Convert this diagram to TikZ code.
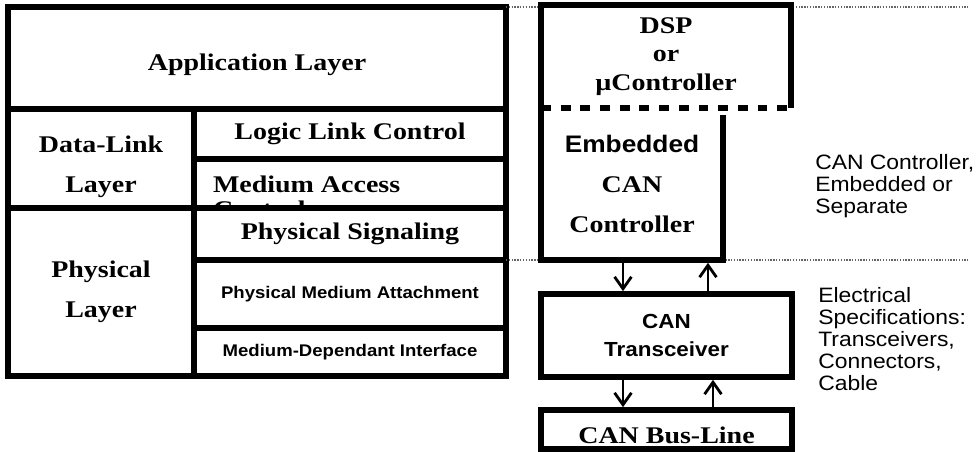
\documentclass[tikz,border=0pt]{standalone}
\usepackage{fontspec}
\setmainfont{Liberation Serif}[FakeStretch=1.17]
\newfontfamily\notefont{Liberation Sans}[FakeStretch=1.1]
\usetikzlibrary{arrows.meta,calc,positioning}

\newlength\pxu
\setlength\pxu{0.025cm}

\tikzset{
  layer/.style={draw, fill=white, line width=4.3pt, inner sep=0pt, outer sep=0pt, align=center},
  hidden/.style={inner sep=0pt, outer sep=0pt, align=center},
  frame/.style={line width=4.3pt},
  dashframe/.style={line width=3.6pt, dash pattern=on 7pt off 7pt},
  serifbig/.style={font=\fontsize{17}{28.4}\selectfont\bfseries},
  sanssmall/.style={font=\notefont\fontsize{12}{14}\selectfont\bfseries},
  note/.style={font=\notefont\fontsize{14.8}{15.6}\selectfont, align=left, inner sep=0pt},
  sig/.style={line width=2pt, shorten >=2pt, -{Straight Barb[length=8.5pt,width=12pt,line width=2pt]}},
  guide/.style={line width=1pt, black!60, dash pattern=on 1pt off 1pt}
}

\begin{document}
\begin{tikzpicture}[x=\pxu, y=-\pxu]
  \useasboundingbox (0,0) rectangle (978,452);
  \coordinate (rend) at (968,0);

  % OSI side
  \node[layer, serifbig, text height=21pt, minimum width=498\pxu, minimum height=102\pxu] (app) at (257,58) {Application Layer};

  % dotted level lines
  \draw[guide] (app.north east) -- (app.north east -| rend);

  \node[layer, serifbig, text height=52.5pt, minimum width=186\pxu, minimum height=99\pxu] (dll) at (101,158.5) {Data-Link\\Layer};
  \node[layer, serifbig, minimum width=312\pxu, minimum height=50\pxu] (llc) at (350,134) {Logic Link Control};
  \node[layer, minimum width=312\pxu, minimum height=49\pxu] (mac) at (350,183.5) {};
  \node[hidden, serifbig, font=\fontsize{17}{17.8}\selectfont\bfseries, anchor=north west, align=left] (mactext) at (213,176) {Medium Access\\Control};
  \node[layer, serifbig, minimum width=186\pxu, minimum height=168\pxu] (phl) at (101,292) {Physical\\Layer};
  \node[layer, serifbig, minimum width=312\pxu, minimum height=52\pxu] (ps) at (350,234) {Physical Signaling};
  \node[layer, sanssmall, minimum width=312\pxu, minimum height=68\pxu] (pma) at (350,294) {Physical Medium Attachment};
  \node[layer, sanssmall, minimum width=312\pxu, minimum height=48\pxu] (mdi) at (350,352) {Medium-Dependant Interface};

  \draw[guide] (pma.north east) -- (pma.north east -| rend);

  % CAN side
  \node[hidden, serifbig, font=\fontsize{17}{20.3}\selectfont\bfseries, minimum width=250\pxu, minimum height=103\pxu] (dsp) at (666,56.5) {DSP\\or\\µController};
  \draw[frame] (dsp.south west) -- (dsp.north west) -- (dsp.north east) -- (dsp.south east);
  \draw[dashframe] (dsp.south west) -- (dsp.south east);

  \node[hidden, serifbig, minimum width=182\pxu, minimum height=152\pxu] (emb) at (632,184) {{\notefont\bfseries Embedded}\\CAN\\Controller};
  \draw[frame] ($(emb.north east)+(0,7)$) -- (emb.south east) -- (emb.south west) -- (emb.north west);

  \node[layer, font=\notefont\fontsize{14.5}{20}\selectfont\bfseries, minimum width=251\pxu, minimum height=83\pxu] (xcvr) at (666.5,335.5) {CAN\\Transceiver};
  \node[layer, serifbig, text height=20pt, minimum width=251\pxu, minimum height=39\pxu] (bus) at (666.5,429.5) {CAN Bus-Line};

  \draw[sig] ($(emb.south west)+(82,0)$) -- ($(xcvr.north west)+(82,0)$);
  \draw[sig] ($(xcvr.north west)+(167,0)$) -- ($(emb.south west)+(167,0)$);
  \draw[sig] ($(xcvr.south west)+(82,0)$) -- ($(bus.north west)+(82,0)$);
  \draw[sig] ($(bus.north west)+(172,0)$) -- ($(xcvr.south west)+(172,0)$);

  % notes
  \node[note, anchor=west] (ctrlnote) at (815,186) {CAN Controller,\\Embedded or\\Separate};
  \node[note, anchor=west] (elecnote) at (818,339) {Electrical\\Specifications:\\Transceivers,\\Connectors,\\Cable};
\end{tikzpicture}
\end{document}
